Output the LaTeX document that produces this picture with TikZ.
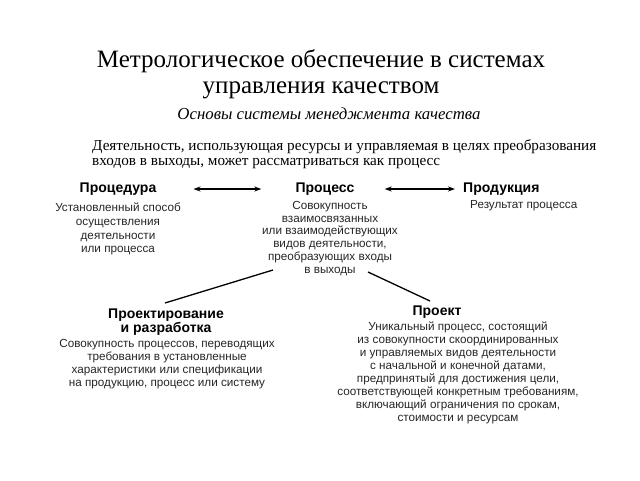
\documentclass[tikz,border=0pt]{standalone}
\usepackage{fontspec}
\setmainfont{Liberation Serif}
\setsansfont{Liberation Sans}
\usetikzlibrary{arrows.meta}
\tikzset{
  headtxt/.style={font=\sffamily\bfseries\fontsize{14}{13.5}\selectfont, inner sep=0pt, align=center},
  bodytxt/.style={font=\sffamily\fontsize{11.7}{13}\selectfont, inner sep=0pt, align=center, text=black!85},
  dblarrow/.style={{Stealth[length=7pt,width=5pt]}-{Stealth[length=7pt,width=5pt]}, line width=1.4pt},
  link/.style={line width=1.3pt}
}
\begin{document}
\begin{tikzpicture}[x=1pt,y=-1pt]
\useasboundingbox (0,0) rectangle (640,480);
\node[font=\fontsize{25}{26.5}\selectfont, align=center, inner sep=0pt] (title) at (321,74) {Метрологическое обеспечение в системах\\управления качеством};
\node[font=\itshape\fontsize{16.8}{17}\selectfont, inner sep=0pt] (sub) at (329,114) {Основы системы менеджмента качества};
\node[font=\fontsize{15.2}{15}\selectfont, align=left, inner sep=0pt, anchor=north west] (intro) at (92,139) {Деятельность, использующая ресурсы и управляемая в целях преобразования\\входов в выходы, может рассматриваться как процесс};

\node[headtxt] (proch) at (118,189) {Процедура};
\node[bodytxt, font=\sffamily\fontsize{11.7}{13.7}\selectfont, anchor=north] (procb) at (118,203) {Установленный способ\\осуществления\\деятельности\\или процесса};

\node[headtxt] (prch) at (325,189) {Процесс};
\node[bodytxt, font=\sffamily\fontsize{11.7}{12.8}\selectfont, anchor=north] (prcb) at (330,201) {Совокупность\\взаимосвязанных\\или взаимодействующих\\видов деятельности,\\преобразующих входы\\в выходы};

\node[headtxt, anchor=west] (prodh) at (463,189) {Продукция};
\node[bodytxt, anchor=west] (prodb) at (470,206) {Результат процесса};

\node[headtxt, anchor=north] (desh) at (166,309) {Проектирование\\и разработка};
\node[bodytxt, anchor=north] (desb) at (167,339) {Совокупность процессов, переводящих\\требования в установленные\\характеристики или спецификации\\на продукцию, процесс или систему};

\node[headtxt] (projh) at (437,312) {Проект};
\node[bodytxt, anchor=north] (projb) at (458,322) {Уникальный процесс, состоящий\\из совокупности скоординированных\\и управляемых видов деятельности\\с начальной и конечной датами,\\предпринятый для достижения цели,\\соответствующей конкретным требованиям,\\включающий ограничения по срокам,\\стоимости и ресурсам};

\draw[dblarrow] ([xshift=37pt]proch.east) -- ([xshift=-34pt]prch.west);
\draw[dblarrow] ([xshift=30pt]prch.east) -- ([xshift=-8pt]prodh.west);

\coordinate (l1a) at (273,270);
\coordinate (l1b) at (165,303);
\coordinate (l2a) at (368,272);
\coordinate (l2b) at (430,301);
\draw[link] (l1a) -- (l1b);
\draw[link] (l2a) -- (l2b);
\end{tikzpicture}
\end{document}
